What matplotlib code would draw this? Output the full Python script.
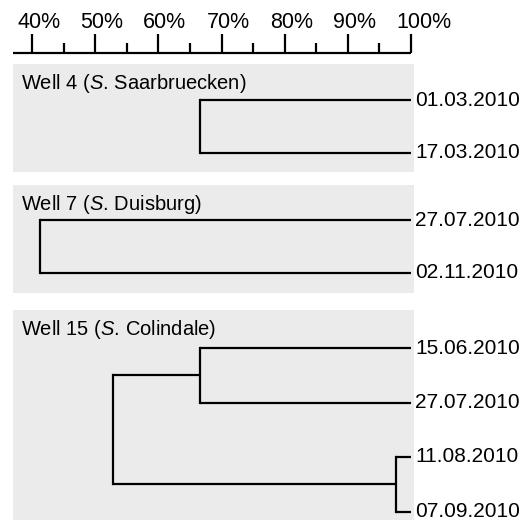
import matplotlib
matplotlib.use("Agg")
import matplotlib.pyplot as plt

plt.rcParams['font.family'] = ['Liberation Sans', 'DejaVu Sans']
plt.rcParams['mathtext.fontset'] = 'custom'
plt.rcParams['mathtext.it'] = 'Liberation Sans:italic'
plt.rcParams['mathtext.rm'] = 'Liberation Sans'

# data
wells = ["Well 4", "Well 7", "Well 15"]
serovars = ["Saarbruecken", "Duisburg", "Colindale"]
leaves = [
    ["01.03.2010", "17.03.2010"],
    ["27.07.2010", "02.11.2010"],
    ["15.06.2010", "27.07.2010", "11.08.2010", "07.09.2010"],
]
# merges: (child a, child b, similarity %), new nodes numbered after leaves
merges = [
    [(0, 1, 66.6)],
    [(0, 1, 41.3)],
    [(0, 1, 66.6), (2, 3, 97.6), (4, 5, 52.8)],
]
scale_ticks = [40, 50, 60, 70, 80, 90, 100]
scale_minor = [45, 55, 65, 75, 85, 95]

# layout (pixel units, y from top)
W, H = 525, 520
px_per_pct = 379 / 60.0
x0 = 40 - 32 / px_per_pct
x1 = x0 + W / px_per_pct
panel_top = [64, 185, 310]
panel_bot = [172, 293, 521]
first_leaf = [36, 35, 38]
leaf_step = [53, 53, 54.5]
grey = '#ebebeb'
lw = 1.6

fig = plt.figure(figsize=(W / 100, H / 100), dpi=100)
ax = fig.add_axes([0, 0, 1, 1])
ax.set_xlim(x0, x1)
ax.set_ylim(H, 0)
ax.axis('off')

def px(n):
    return n / px_per_pct

# scale bar on top
base_y = 53
ax.plot([x0 + px(13), 100], [base_y, base_y], color='black', lw=lw, solid_capstyle='butt')
for t in scale_ticks:
    ax.plot([t, t], [base_y, base_y - 19], color='black', lw=lw, solid_capstyle='butt')
    ax.text(t - px(15), 22, f"{t}%", ha='left', va='center', fontsize=15.5)
for t in scale_minor:
    ax.plot([t, t], [base_y, base_y - 10], color='black', lw=lw, solid_capstyle='butt')

left_edge = x0 + px(13)
right_edge = 100 + px(2.5)

for i in range(len(wells)):
    top = panel_top[i]
    ax.fill_between([left_edge, right_edge], top, panel_bot[i], color=grey, lw=0, zorder=0)
    ax.text(x0 + px(21), top + 25,
            wells[i] + r" ($\mathit{S}$. " + serovars[i] + ")",
            ha='left', va='baseline', fontsize=14.5)

    ys = [top + first_leaf[i] + k * leaf_step[i] for k in range(len(leaves[i]))]
    xs = [100.0] * len(leaves[i])
    for k, lab in enumerate(leaves[i]):
        ax.text(100 + px(4), ys[k], lab, ha='left', va='center', fontsize=15)
    for a, b, sim in merges[i]:
        ax.plot([xs[a], sim], [ys[a], ys[a]], color='black', lw=lw, solid_capstyle='butt')
        ax.plot([xs[b], sim], [ys[b], ys[b]], color='black', lw=lw, solid_capstyle='butt')
        ax.plot([sim, sim], [ys[a], ys[b]], color='black', lw=lw, solid_capstyle='projecting')
        xs.append(sim)
        ys.append((ys[a] + ys[b]) / 2)

fig.savefig('out.png', dpi=100)
